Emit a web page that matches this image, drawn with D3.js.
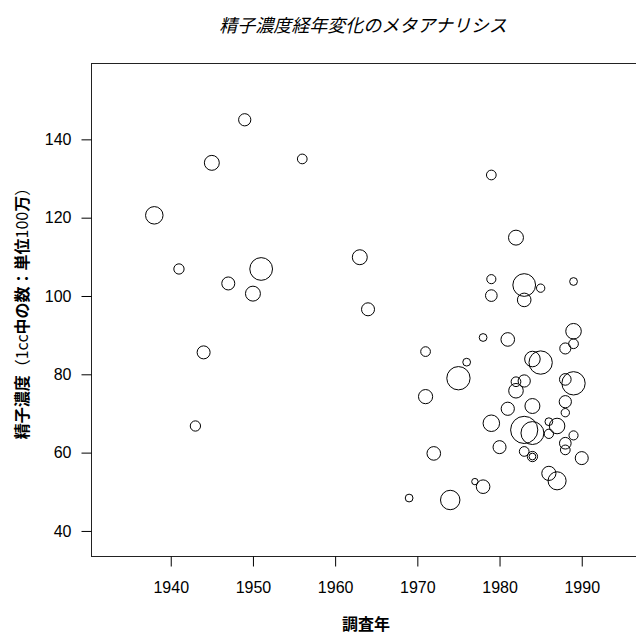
<!DOCTYPE html>
<html>
<head>
<meta charset="utf-8">
<script src="https://cdn.jsdelivr.net/npm/d3@7"></script>
<style>
  html, body { margin: 0; padding: 0; background: #fff; }
  svg { display: block; }
</style>
</head>
<body>
<svg id="chart" width="636" height="635"></svg>
<script>
// ---- data ----
const years = [1938,1941,1943,1944,1945,1947,1949,1950,1951,1956,1963,1964,1969,1971,1971,1972,1974,1975,1976,1977,1978,1978,1979,1979,1979,1979,1980,1981,1981,1982,1982,1982,1983,1983,1983,1983,1983,1984,1984,1984,1984,1984,1985,1985,1986,1986,1986,1987,1987,1988,1988,1988,1988,1988,1988,1989,1989,1989,1989,1989,1990];
const concentration = [120.6,106.9,66.8,85.6,134.0,103.2,145.0,100.6,106.9,135.0,109.9,96.6,48.4,85.8,74.3,59.8,47.9,79.0,83.1,52.6,89.4,51.3,130.9,104.3,100.1,67.5,61.4,88.9,71.2,114.9,78.1,75.8,102.8,99.0,78.3,65.8,60.3,83.9,71.9,65.0,59.0,59.0,102.0,83.0,67.9,64.8,54.7,66.8,52.8,86.6,78.7,73.0,70.2,62.4,60.7,103.7,91.0,87.8,77.7,64.4,58.6];
const sampleSize = [405,140,140,224,296,224,198,296,684,125,296,224,80,125,266,245,500,720,80,54,80,245,125,110,180,361,224,245,231,296,125,281,684,245,198,980,125,320,296,696,140,61,92,720,80,115,266,320,432,162,180,198,92,180,125,80,320,125,720,110,224];
const xTicks = [1940,1950,1960,1970,1980,1990];
const yTicks = [40,60,80,100,120,140];
const titleText = "精子濃度経年変化のメタアナリシス";
const xLabel = "調査年";
const yLabelParts = [
  {t:"精子濃度", bold:true}, {t:"（1cc", bold:false}, {t:"中の数", bold:true},
  {t:"：", bold:true}, {t:"単位", bold:true}, {t:"100", bold:false},
  {t:"万", bold:true}, {t:"）", bold:false}
];

// ---- layout ----
const svg = d3.select("#chart");
const box = {left: 91, right: 636, top: 63, bottom: 556};
const fontLatin = "'Liberation Sans', Arial, 'Noto Sans CJK JP', sans-serif";
const fontCJK = "'Noto Sans CJK JP', 'Liberation Sans', sans-serif";

const x = d3.scaleLinear().domain([1930.3, 1996.6]).range([box.left, box.right]);
const y = d3.scaleLinear().domain([33.6, 159.5]).range([box.bottom, box.top]);
const r = d3.scaleSqrt().domain([0, d3.max(sampleSize)]).range([0, 13.6]);

const data = years.map((yr, i) => ({yr, c: concentration[i], n: sampleSize[i]}));

// circles
svg.append("g")
  .selectAll("circle")
  .data(data)
  .join("circle")
  .attr("cx", d => x(d.yr))
  .attr("cy", d => y(d.c))
  .attr("r", d => r(d.n))
  .attr("fill", "none")
  .attr("stroke", "#000")
  .attr("stroke-width", 1);

// box
svg.append("rect")
  .attr("x", box.left + 0.5).attr("y", box.top + 0.5)
  .attr("width", box.right - box.left).attr("height", box.bottom - box.top)
  .attr("fill", "none").attr("stroke", "#222").attr("stroke-width", 1);

// x axis
const xAxis = d3.axisBottom(x).tickValues(xTicks).tickFormat(d3.format("d"))
  .tickSize(10).tickPadding(15);
const gx = svg.append("g").attr("transform", `translate(0,${box.bottom + 0.5})`).call(xAxis);
gx.select(".domain").remove();
gx.selectAll(".tick line").attr("stroke", "#000");
gx.selectAll(".tick text").attr("font-family", fontLatin).attr("font-size", 16).attr("fill", "#000");

// y axis
const yAxis = d3.axisLeft(y).tickValues(yTicks).tickFormat(d3.format("d"))
  .tickSize(10).tickPadding(10);
const gy = svg.append("g").attr("transform", `translate(${box.left + 0.5},0)`).call(yAxis);
gy.select(".domain").remove();
gy.selectAll(".tick line").attr("stroke", "#000");
gy.selectAll(".tick text").attr("font-family", fontLatin).attr("font-size", 16).attr("fill", "#000");

// title
svg.append("text")
  .attr("x", 363).attr("y", 32)
  .attr("text-anchor", "middle")
  .attr("font-family", fontCJK)
  .attr("font-size", 18)
  .attr("font-style", "italic")
  .attr("fill", "#000")
  .text(titleText);

// x label
svg.append("text")
  .attr("x", 366).attr("y", 630)
  .attr("text-anchor", "middle")
  .attr("font-family", fontCJK)
  .attr("font-size", 16)
  .attr("font-weight", "bold")
  .attr("fill", "#000")
  .text(xLabel);

// y label
const yl = svg.append("text")
  .attr("transform", `translate(28,${(box.top + box.bottom) / 2}) rotate(-90)`)
  .attr("text-anchor", "middle")
  .attr("font-family", fontCJK)
  .attr("font-size", 16)
  .attr("fill", "#000");
yl.selectAll("tspan").data(yLabelParts).join("tspan")
  .attr("font-weight", d => d.bold ? "bold" : "normal")
  .text(d => d.t);
</script>
</body>
</html>
